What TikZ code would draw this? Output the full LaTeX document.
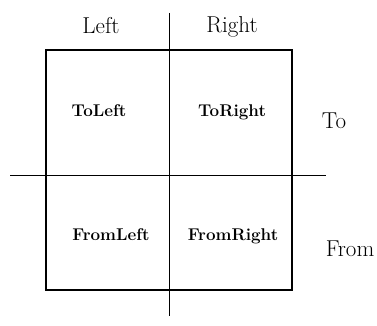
\documentclass[tikz,border=0pt]{standalone}
\usepackage{tikz}
\usetikzlibrary{calc}

\begin{document}
\begin{tikzpicture}[x=1pt, y=-1pt,
  frame/.style={draw, line width=2.8pt, minimum width=246pt, minimum height=240pt,
                inner sep=0pt, outer sep=0pt},
  axis/.style={line width=0.9pt},
  side/.style={font=\fontsize{23}{27}\selectfont},
  quad/.style={font=\fontsize{17}{20}\selectfont\bfseries}]
\useasboundingbox (0,0) rectangle (377,326);
\node[frame] (box) at (169,170) {};
\coordinate (vtop) at (169,13);
\coordinate (vbot) at (169,316);
\coordinate (hleft) at (10,175);
\coordinate (hright) at (326,175);
\draw[axis] (vtop) -- (vbot);
\draw[axis] (hleft) -- (hright);
\node[side] (left)  at (101,26)  {Left};
\node[side] (right) at (232,27)  {Right};
\node[side] (to)    at (334,121) {To};
\node[side] (from)  at (350,249) {From};
\node[quad] (tl) at (99,111)  {ToLeft};
\node[quad] (tr) at (232,112) {ToRight};
\node[quad] (bl) at (111,235) {FromLeft};
\node[quad] (br) at (233,236) {FromRight};
\end{tikzpicture}
\end{document}
